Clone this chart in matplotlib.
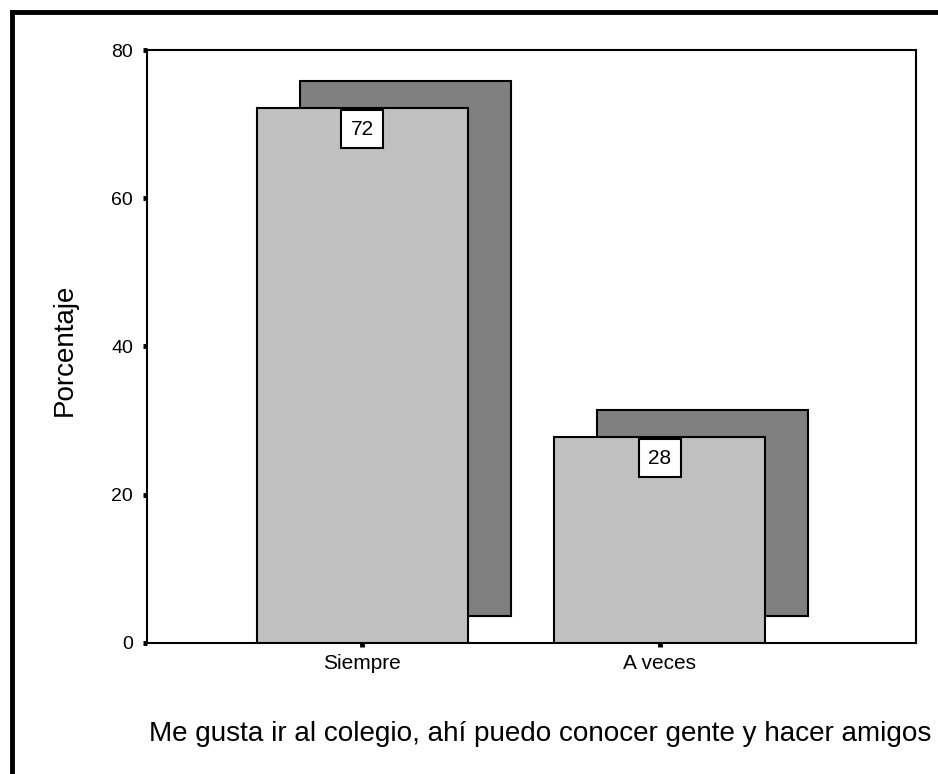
import matplotlib
matplotlib.use("Agg")
import matplotlib.pyplot as plt
from matplotlib.lines import Line2D

categorias = ["Siempre", "A veces"]
porcentajes = [72.2, 27.8]
etiquetas = ["72", "28"]
yticks = [0, 20, 40, 60, 80]

plt.rcParams["font.family"] = ["Liberation Sans", "DejaVu Sans"]

fig = plt.figure(figsize=(9.38, 7.74), dpi=100)
ax = fig.add_axes([0.1567, 0.1693, 0.8198, 0.7661])

x = list(range(len(categorias)))
ancho = 0.71
dx = 0.145   # desplazamiento de la sombra
dy = 3.65

# sombra (barra trasera)
ax.bar([i + dx for i in x], porcentajes, width=ancho, bottom=dy,
       color="#808080", edgecolor="black", linewidth=1.5, zorder=2)
# barra frontal
ax.bar(x, porcentajes, width=ancho, color="#c0c0c0",
       edgecolor="black", linewidth=1.5, zorder=3)

for i, v in enumerate(porcentajes):
    ax.text(i, v - 1.6, etiquetas[i], ha="center", va="top",
            fontsize=15, zorder=4,
            bbox=dict(boxstyle="square,pad=0.45", fc="white", ec="black", lw=1.5))

ax.set_xlim(-0.724, 1.862)
ax.set_ylim(0, 80)
ax.set_yticks(yticks)
ax.set_xticks(x)
ax.set_xticklabels(categorias, fontsize=15)
ax.tick_params(axis="y", labelsize=14, length=3, width=3.5, direction="out", pad=7)
ax.tick_params(axis="x", length=3, width=3.5, direction="out", pad=5)
for s in ax.spines.values():
    s.set_linewidth(1.5)

ax.set_ylabel("Porcentaje", fontsize=20)
ax.yaxis.set_label_coords(-0.0897, 0.495)
fig.text(0.5757, 0.0426, "Me gusta ir al colegio, ahí puedo conocer gente y hacer amigos",
         ha="center", va="baseline", fontsize=20.1)

# marco exterior
fig.add_artist(Line2D([0.0131, 0.0131], [0, 0.985], transform=fig.transFigure,
                      color="black", linewidth=3.5))
fig.add_artist(Line2D([0.0131, 1.0], [0.985, 0.985], transform=fig.transFigure,
                      color="black", linewidth=3.5))

fig.savefig("out.png", dpi=100)
